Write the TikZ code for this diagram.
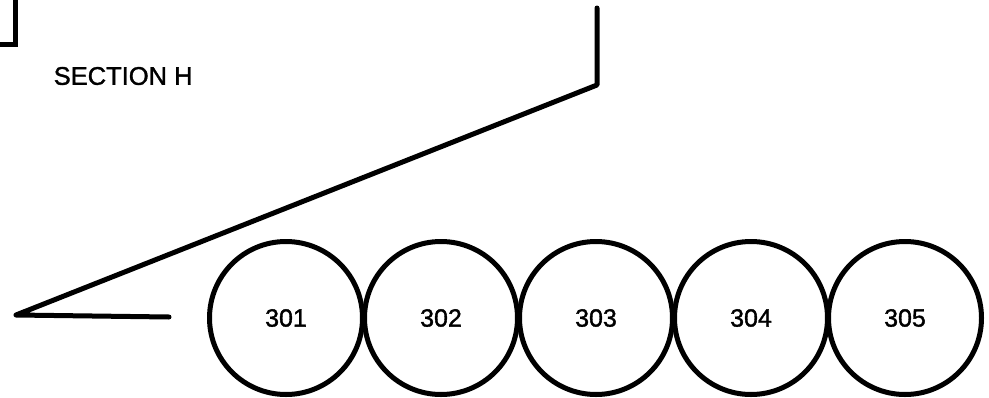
\documentclass[tikz,border=0pt]{standalone}
\usepackage{fontspec}
\setmainfont{Liberation Sans}
\newfontfamily\heavyfont{Liberation Sans}[FakeBold=1.4]
\begin{document}
\begin{tikzpicture}[x=1pt,y=-1pt,
  thick line/.style={line width=5pt,line cap=round,line join=round},
  ring/.style={circle,draw,line width=5pt,minimum size=153pt,inner sep=0pt,font=\heavyfont\fontsize{25}{30}\selectfont},
  label text/.style={font=\heavyfont\fontsize{25.5}{30}\selectfont,inner sep=0pt}]
\useasboundingbox (0,0) rectangle (989,397);
% top-left bracket
\coordinate (b1) at (15.5,-5);
\coordinate (b2) at (15.5,44.5);
\coordinate (b3) at (-5,44.5);
\draw[line width=5pt,line join=miter] (b1) -- (b2) -- (b3);
% section label
\node[label text,anchor=west] (sec) at (53.5,76) {SECTION H};
% polyline
\coordinate (p1) at (597,8);
\coordinate (p2) at (597,85);
\coordinate (p3) at (16,315);
\coordinate (p4) at (169,317);
\draw[thick line] (p1) -- (p2) -- (p3) -- (p4);
% circles
\node[ring] (c301) at (286,318) {301};
\node[ring] (c302) at (441,318) {302};
\node[ring] (c303) at (596,318) {303};
\node[ring] (c304) at (751,318) {304};
\node[ring] (c305) at (905,318) {305};
\end{tikzpicture}
\end{document}
